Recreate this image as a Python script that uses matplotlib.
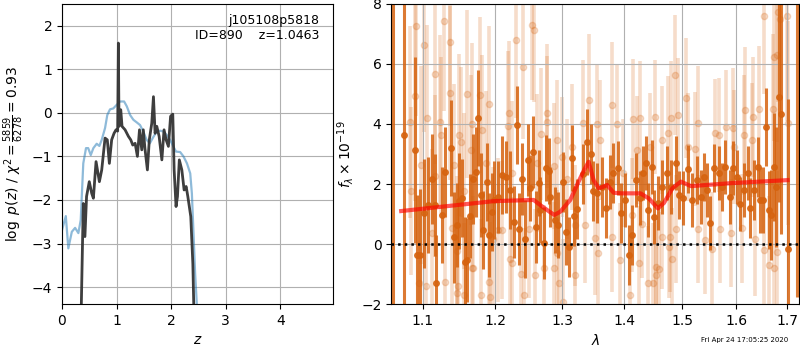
import matplotlib
matplotlib.use('Agg')
import matplotlib.pyplot as plt
from matplotlib.ticker import FixedLocator, FixedFormatter, NullLocator

# p(z) panel
z_chi = [0.345, 0.39, 0.42, 0.45, 0.50, 0.545, 0.575, 0.624, 0.685, 0.728,
         0.789, 0.83, 0.868, 0.91, 0.954, 0.99, 1.02, 1.033, 1.045, 1.077,
         1.10, 1.156, 1.217, 1.26, 1.297, 1.34, 1.382, 1.42, 1.462, 1.49,
         1.52, 1.565, 1.60, 1.645, 1.676, 1.706, 1.737, 1.78, 1.83, 1.87,
         1.908, 1.95, 1.99, 2.03, 2.055, 2.09, 2.116, 2.15, 2.196, 2.238,
         2.275, 2.306, 2.36, 2.398, 2.425]
logp_chi = [-5.0, -2.08, -2.84, -1.92, -1.58, -1.85, -1.96, -1.12, -1.58, -1.31,
            -0.58, -0.62, -1.16, -0.62, -0.47, -0.39, -0.42, 1.60, -0.31, 0.07,
            -0.31, -0.39, -0.54, -0.62, -0.74, -0.70, -1.0, -0.39, -0.85, -0.39,
            -0.82, -1.31, -0.62, -0.24, 0.37, -0.47, -0.31, -0.54, -1.08, -0.39,
            -0.62, -0.77, -0.08, -0.03, -1.31, -2.15, -1.92, -1.08, -1.31, -1.77,
            -1.69, -1.92, -2.38, -3.46, -5.0]

z_phot = [0.0, 0.07, 0.116, 0.18, 0.24, 0.30, 0.343, 0.39, 0.44, 0.48,
          0.527, 0.575, 0.636, 0.685, 0.728, 0.789, 0.83, 0.88, 0.94, 1.0,
          1.064, 1.138, 1.187, 1.248, 1.308, 1.37, 1.43, 1.49, 1.55, 1.61,
          1.676, 1.737, 1.80, 1.86, 1.92, 1.98, 2.04, 2.09, 2.165, 2.226,
          2.29, 2.35, 2.38, 2.41, 2.44, 2.48]
logp_phot = [-2.69, -2.37, -3.11, -2.73, -2.64, -2.76, -2.46, -1.16, -0.81, -0.81,
             -0.97, -0.81, -0.71, -0.76, -0.62, -0.35, -0.05, 0.08, 0.10, 0.18,
             0.26, 0.26, 0.15, -0.05, -0.16, -0.22, -0.28, -0.43, -0.62, -0.70,
             -0.55, -0.43, -0.41, -0.43, -0.51, -0.62, -0.77, -0.89, -0.90, -1.0,
             -1.16, -1.39, -1.85, -2.76, -3.69, -4.6]

# spectrum panel: binned (dark) and unbinned (light) points
wave_bin = [1.0615, 1.0758, 1.0896, 1.0931, 1.0961, 1.1018, 1.1075, 1.1119, 1.1164, 1.1185,
            1.1262, 1.1306, 1.1374, 1.1420, 1.1456, 1.1489, 1.1534, 1.1572, 1.1603, 1.1635,
            1.1683, 1.1719, 1.1753, 1.1789, 1.1827, 1.1874, 1.1908, 1.1945, 1.1980, 1.2037,
            1.2095, 1.2153, 1.2216, 1.2263, 1.2313, 1.2347, 1.2387, 1.2425, 1.2470, 1.2500,
            1.2545, 1.2596, 1.2635, 1.2661, 1.2711, 1.2752, 1.2787, 1.2813, 1.2879, 1.2931,
            1.3008, 1.3055, 1.3096, 1.3150, 1.3186, 1.3229, 1.3318, 1.3388, 1.3452, 1.3478,
            1.3549, 1.3624, 1.3688, 1.3760, 1.3814, 1.3886, 1.3943, 1.4009, 1.4077, 1.4121,
            1.4188, 1.4263, 1.4319, 1.4358, 1.4393, 1.4462, 1.4503, 1.4571, 1.4636, 1.4723,
            1.4801, 1.4883, 1.4948, 1.5020, 1.5097, 1.5169, 1.5260, 1.5341, 1.5400, 1.5460,
            1.5511, 1.5586, 1.5666, 1.5730, 1.5792, 1.5874, 1.5938, 1.6015, 1.6079, 1.6142,
            1.6220, 1.6272, 1.6336, 1.6414, 1.6467, 1.6520, 1.6585, 1.6631, 1.6678, 1.6731,
            1.6784, 1.6845, 1.6886, 1.7014, 1.7211]
flux_bin = [9.0, 3.63, 3.13, -0.37, -0.37, 1.02, 1.30, 2.16, 1.30, -1.29,
            0.97, 2.41, 3.21, 0.22, 0.63, 1.43, 1.53, -0.59, -0.53, 0.93,
            2.16, 2.41, 4.19, 1.63, 0.47, 2.06, 0.30, 1.08, 1.46, 1.58,
            2.30, 2.23, 1.80, 0.74, 3.97, 0.49, 2.16, 0.16, 2.80, 1.86,
            3.06, 0.58, 2.02, 1.13, 0.04, 2.53, 2.43, 1.57, 0.80, 0.63,
            2.07, 0.41, -0.09, 2.86, 0.93, 1.17, 2.34, 3.41, 3.00, 1.78,
            1.69, 1.91, 1.19, 2.07, 2.36, 2.53, 1.02, 1.47, -0.37, 0.30,
            2.13, 1.53, 2.36, 2.69, 1.13, 2.58, 0.91, 1.36, 1.91, 2.36,
            1.91, 2.69, 1.63, 1.53, 2.49, 1.47, 2.13, 1.58, 2.24, 1.80,
            0.71, 2.53, 2.36, 1.91, 2.58, 1.58, 2.53, 2.24, 1.33, 1.80,
            2.36, 1.19, 1.80, 2.58, 1.47, 1.47, 3.91, 1.13, 0.97, 2.58,
            1.91, 4.91, 4.33, -0.18, 8.5]
err_bin = [12.0, 6.0, 3.1, 2.0, 2.2, 1.8, 1.6, 1.5, 1.7, 1.6,
           1.6, 1.5, 1.6, 1.5, 1.4, 1.6, 1.3, 1.5, 1.4, 1.4,
           1.5, 1.5, 1.6, 1.4, 1.3, 1.3, 1.4, 1.3, 1.3, 1.2,
           1.3, 1.2, 1.3, 1.2, 1.3, 1.2, 1.2, 1.3, 1.2, 1.1,
           1.2, 1.2, 1.1, 1.1, 1.2, 1.1, 1.1, 1.0, 1.1, 1.1,
           1.0, 1.1, 1.0, 1.1, 1.0, 1.0, 1.0, 1.1, 1.0, 1.0,
           1.0, 1.0, 1.0, 0.9, 1.0, 0.9, 1.0, 0.9, 1.0, 1.0,
           0.9, 0.9, 0.9, 0.9, 0.9, 0.9, 0.9, 0.9, 0.9, 0.9,
           0.9, 0.9, 0.8, 0.9, 0.8, 0.9, 0.8, 0.9, 0.8, 0.9,
           0.9, 0.8, 0.9, 0.8, 0.9, 0.9, 0.9, 0.9, 0.9, 0.9,
           0.9, 1.0, 1.0, 1.0, 1.1, 1.1, 1.3, 1.3, 1.5, 1.8,
           2.0, 3.5, 4.0, 5.0, 10.26]

wave_raw = [1.0843, 1.0850, 1.0900, 1.0917, 1.0953, 1.0974, 1.1018, 1.1040, 1.1062, 1.1119,
            1.1159, 1.1171, 1.1226, 1.1240, 1.1292, 1.1300, 1.1362, 1.1370, 1.1389, 1.1420,
            1.1459, 1.1466, 1.1480, 1.1489, 1.1522, 1.1558, 1.1565, 1.1594, 1.1650, 1.1664,
            1.1670, 1.1685, 1.1775, 1.1789, 1.1804, 1.1862, 1.1908, 1.1916, 1.1930, 1.1963,
            1.2044, 1.2095, 1.2178, 1.2191, 1.2216, 1.2240, 1.2248, 1.2303, 1.2377, 1.2396,
            1.2420, 1.2486, 1.2530, 1.2561, 1.2575, 1.2611, 1.2676, 1.2725, 1.2763, 1.2770,
            1.2865, 1.2872, 1.2916, 1.2923, 1.2942, 1.2992, 1.3017, 1.3069, 1.3150, 1.3195,
            1.3201, 1.3318, 1.3353, 1.3414, 1.3520, 1.3549, 1.3564, 1.3597, 1.3786, 1.3790,
            1.3870, 1.3926, 1.3981, 1.4093, 1.4121, 1.4149, 1.4205, 1.4245, 1.4263, 1.4290,
            1.4393, 1.4434, 1.4492, 1.4520, 1.4531, 1.4545, 1.4596, 1.4636, 1.4640, 1.4752,
            1.4760, 1.4781, 1.4801, 1.4824, 1.4872, 1.4883, 1.4918, 1.5061, 1.5110, 1.5231,
            1.5278, 1.5291, 1.5420, 1.5543, 1.5605, 1.5666, 1.5693, 1.5811, 1.5908, 1.5938,
            1.5952, 1.6111, 1.6142, 1.6175, 1.6304, 1.6317, 1.6370, 1.6433, 1.6536, 1.6546,
            1.6631, 1.6720, 1.6731, 1.6740, 1.6793, 1.6800, 1.6825, 1.6860, 1.7001, 1.7014]
flux_raw = [4.06, 1.78, 4.93, 7.27, -1.29, 2.63, 6.63, -1.40, 4.19, 0.38,
            5.67, 2.27, 4.06, 3.63, 7.43, -1.26, 6.72, 5.02, 0.52, 2.63,
            -0.23, -1.64, -1.40, 3.63, 3.41, 1.77, -1.70, 4.99, 3.13, -0.81,
            4.00, -0.81, 4.97, -1.68, 3.80, 2.69, 4.66, -1.26, -1.77, 0.16,
            0.47, 0.47, 3.93, 4.36, -0.51, 2.36, -0.63, 6.80, -0.98, 5.89,
            -1.68, 0.49, 7.30, 7.13, -1.03, 2.69, 3.67, -0.81, 4.36, 4.08,
            2.61, -0.81, 3.47, -0.31, -1.31, 2.91, -1.92, 2.17, 3.24, -1.03,
            0.62, 4.04, 0.62, 4.80, 0.19, 4.00, -0.31, 3.47, 4.63, 0.22,
            4.00, -0.53, 2.36, -1.70, 0.97, 4.17, 3.13, -0.63, 4.20, 0.67,
            -1.29, 3.24, -1.31, 4.24, -0.76, -1.03, -0.84, 3.47, 0.22, 3.71,
            -0.09, 0.22, 4.20, -0.51, 5.63, 0.49, 4.30, 4.86, 3.24, 3.18,
            0.49, 4.04, 0.13, -0.17, 3.69, 3.63, 0.50, 3.89, 0.38, 3.86,
            3.24, 0.52, 3.63, 4.47, 3.47, 4.22, 0.16, 4.50, -0.20, 7.60,
            -0.70, 4.50, 6.22, -0.81, 6.30, -0.28, 7.73, 7.50, 7.60, 4.04]
err_raw = [3.2, 2.8, 3.5, 3.0, 2.9, 3.3, 2.9, 2.7, 3.1, 2.8,
           3.0, 2.7, 2.9, 2.6, 3.0, 2.6, 2.8, 2.9, 2.6, 2.7,
           2.5, 2.8, 2.6, 2.7, 2.5, 2.6, 2.4, 2.8, 2.5, 2.6,
           2.7, 2.4, 2.6, 2.5, 2.5, 2.4, 2.6, 2.3, 2.5, 2.4,
           2.4, 2.3, 2.5, 2.4, 2.3, 2.4, 2.2, 2.6, 2.3, 2.4,
           2.2, 2.3, 2.5, 2.4, 2.2, 2.3, 2.2, 2.1, 2.3, 2.2,
           2.1, 2.2, 2.0, 2.1, 2.2, 2.0, 2.1, 2.0, 2.1, 1.9,
           2.0, 2.1, 1.9, 2.2, 1.9, 2.0, 1.8, 2.0, 2.1, 1.8,
           2.0, 1.9, 1.8, 2.0, 1.9, 2.0, 1.8, 1.9, 1.9, 1.8,
           1.9, 1.8, 2.0, 1.9, 1.7, 1.8, 1.9, 1.8, 1.7, 1.9,
           1.7, 1.8, 1.9, 1.7, 2.0, 1.8, 1.9, 2.0, 1.8, 1.9,
           1.8, 1.9, 1.8, 1.9, 1.8, 1.9, 1.8, 1.9, 1.8, 2.0,
           1.9, 1.8, 2.0, 2.1, 1.9, 2.0, 1.9, 2.1, 2.2, 2.6,
           2.3, 2.5, 2.8, 2.6, 2.9, 2.7, 3.0, 3.2, 3.5, 3.4]

wave_model = [1.0723, 1.1976, 1.2561, 1.2661, 1.2800, 1.2876, 1.2968, 1.3123, 1.3254, 1.3350,
              1.3414, 1.3494, 1.3575, 1.3640, 1.3712, 1.3821, 1.3950, 1.4271, 1.4414, 1.4571,
              1.4677, 1.4826, 1.4976, 1.5158, 1.5908, 1.7012]
flux_model = [1.10, 1.43, 1.47, 1.30, 1.08, 0.97, 1.08, 1.47, 2.08, 2.50,
              2.74, 2.13, 1.86, 1.90, 1.97, 1.71, 1.69, 1.69, 1.52, 1.19,
              1.37, 1.86, 2.08, 1.93, 2.03, 2.13]

z_ticks = [0, 1, 2, 3, 4]
lam_ticks = [1.1, 1.2, 1.3, 1.4, 1.5, 1.6, 1.7]
lam_labels = ['1.1', '1.2', '1.3', '1.4', '1.5', '1.6', '1.7']

fig = plt.figure(figsize=(8, 3.5), dpi=100)
ax = fig.add_axes([0.0775, 0.131, 0.339, 0.858])
ax.plot(z_phot, logp_phot, color='tab:blue', alpha=0.5, lw=1.6)
ax.plot(z_chi, logp_chi, color='0.2', alpha=0.95, lw=2)
ax.set_xlim(0, 4.97)
ax.set_ylim(-4.39, 2.5)
ax.set_xticks(z_ticks)
ax.set_yticks([-4, -3, -2, -1, 0, 1, 2])
ax.grid()
ax.set_xlabel(r'$z$')
ax.set_ylabel(r'$\log\ p(z)$' + ' / ' + r'$\chi^2=\frac{5859}{6278}=0.93$')
ax.text(0.95, 0.965, 'j105108p5818\nID=890    z=1.0463', ha='right', va='top',
        transform=ax.transAxes, fontsize=9)

col = (0.84, 0.39, 0.06)
ax2 = fig.add_axes([0.489, 0.131, 0.510, 0.858])
ax2.errorbar(wave_raw, flux_raw, yerr=err_raw, fmt='o', color=col, alpha=0.22,
             ms=4.5, lw=2.6, capsize=0, zorder=1)
ax2.errorbar(wave_bin, flux_bin, yerr=err_bin, fmt='o', color=col, alpha=0.85,
             ms=4, lw=2.2, capsize=0, zorder=2)
ax2.plot(wave_model, flux_model, color='red', alpha=0.65, lw=3, zorder=3)
ax2.axhline(0, color='k', ls=':', lw=1.8, zorder=4)
ax2.set_xscale('log')
ax2.set_xlim(1.0596, 1.725)
ax2.set_ylim(-2, 8)
ax2.xaxis.set_major_locator(FixedLocator(lam_ticks))
ax2.xaxis.set_major_formatter(FixedFormatter(lam_labels))
ax2.xaxis.set_minor_locator(NullLocator())
ax2.grid()
ax2.set_xlabel(r'$\lambda$')
ax2.set_ylabel(r'$f_\lambda\times10^{-19}$')

fig.text(0.985, 0.02, 'Fri Apr 24 17:05:25 2020', ha='right', va='bottom', fontsize=5)

fig.savefig('out.png', dpi=100)
